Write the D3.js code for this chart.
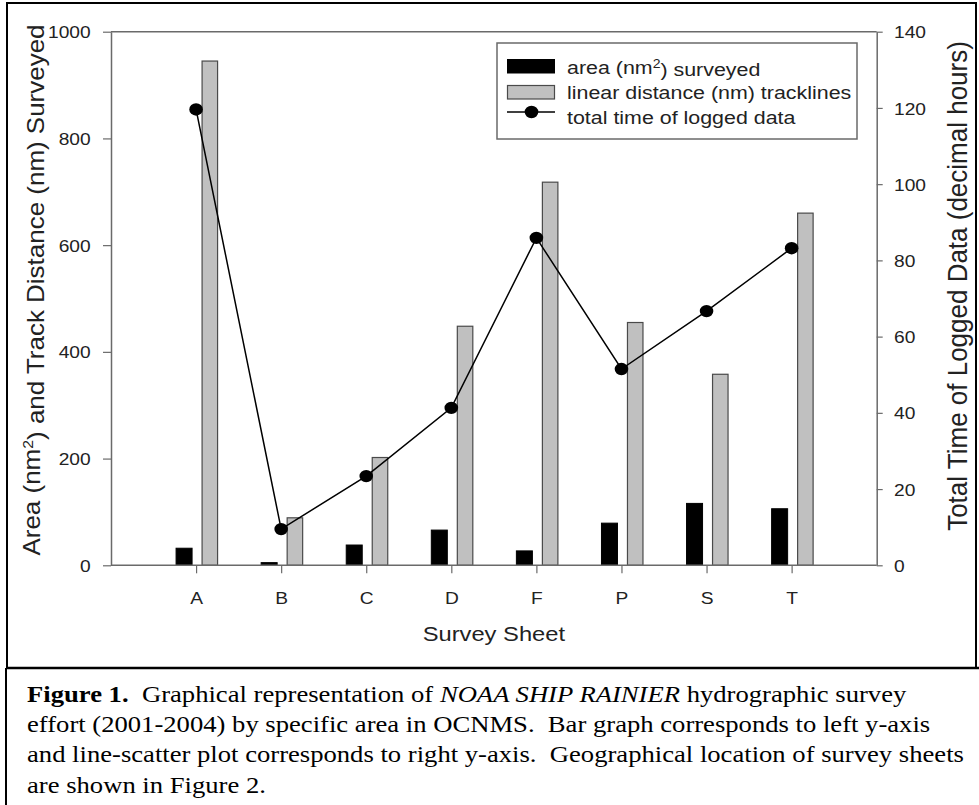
<!DOCTYPE html>
<html><head><meta charset="utf-8">
<script src="https://d3js.org/d3.v7.min.js"></script>
<style>
html,body{margin:0;padding:0;background:#fff;}
svg{display:block;}
text{font-family:"Liberation Sans",Arial,sans-serif;}
.cap{font-family:"Liberation Serif","Times New Roman",serif;font-size:24px;fill:#000;white-space:pre;}
</style></head>
<body>
<svg id="chart" width="979" height="805"></svg>
<script>
const categories = ["A","B","C","D","F","P","S","T"];
const areaSurveyed = [32, 5, 38, 66, 27, 79, 116, 106];
const trackDistance = [945, 89, 202, 448, 718, 455, 358, 660];
const loggedHours = [119.6, 9.5, 23.4, 41.3, 85.9, 51.5, 66.7, 83.2];
const leftTicks = [0, 200, 400, 600, 800, 1000];
const rightTicks = [0, 20, 40, 60, 80, 100, 120, 140];
const legendLabels = ["area (nm\u00b2) surveyed", "linear distance (nm) tracklines", "total time of logged data"];
const captionLines = [
  [{t:"Figure 1.", w:"bold"}, {t:"  Graphical representation of "}, {t:"NOAA SHIP RAINIER", s:"italic"}, {t:" hydrographic survey"}],
  [{t:"effort (2001-2004) by specific area in OCNMS.  Bar graph corresponds to left y-axis"}],
  [{t:"and line-scatter plot corresponds to right y-axis.  Geographical location of survey sheets"}],
  [{t:"are shown in Figure 2."}]
];

const SX = 1.13; // horizontal stretch of the original raster
const svg = d3.select("#chart");
const L = 111, R = 876.7, T = 31.7, B = 565.3;
const axisColor = "#6a6a6a", textColor = "#222";

const x = d3.scalePoint().domain(categories).range([L, R]).padding(1);
const yL = d3.scaleLinear().domain([0, 1000]).range([B, T]);
const yR = d3.scaleLinear().domain([0, 140]).range([B, T]);

// outer frames
svg.append("rect").attr("x", 7).attr("y", 3).attr("width", 969).attr("height", 665)
  .attr("fill", "none").attr("stroke", "#000").attr("stroke-width", 2);
svg.append("line").attr("x1", 6).attr("x2", 979).attr("y1", 668).attr("y2", 668)
  .attr("stroke", "#000").attr("stroke-width", 2.5);
svg.append("line").attr("x1", 6).attr("x2", 6).attr("y1", 668).attr("y2", 805)
  .attr("stroke", "#000").attr("stroke-width", 2);

// plot frame top line
svg.append("line").attr("x1", L).attr("x2", R).attr("y1", T).attr("y2", T)
  .attr("stroke", axisColor).attr("stroke-width", 1.5);

// bars
const barW = 16, gap = 10;
const g = svg.append("g");
g.selectAll("rect.area").data(categories).join("rect").attr("class", "area")
  .attr("x", d => x(d) - gap/2 - barW + 1)
  .attr("width", barW)
  .attr("y", (d, i) => yL(areaSurveyed[i]))
  .attr("height", (d, i) => B - yL(areaSurveyed[i]))
  .attr("fill", "#000").attr("stroke", "#000").attr("stroke-width", 1);
g.selectAll("rect.dist").data(categories).join("rect").attr("class", "dist")
  .attr("x", d => x(d) + gap/2 + 1)
  .attr("width", barW - 0.5)
  .attr("y", (d, i) => yL(trackDistance[i]))
  .attr("height", (d, i) => B - yL(trackDistance[i]))
  .attr("fill", "#c0c0c0").attr("stroke", "#4a4a4a").attr("stroke-width", 1.2);

// axes
function styleAxis(sel) {
  sel.selectAll("path.domain").attr("stroke", axisColor).attr("stroke-width", 1.5);
  sel.selectAll(".tick line").attr("stroke", axisColor).attr("stroke-width", 1.2);
  sel.selectAll("text").attr("fill", textColor).style("font-size", "17px")
     .style("font-family", "'Liberation Sans',Arial,sans-serif");
}
const axL = svg.append("g").attr("transform", `translate(${L},0)`)
  .call(d3.axisLeft(yL).tickValues(leftTicks).tickSize(8).tickSizeOuter(0).tickFormat(d3.format("d")));
styleAxis(axL);
axL.selectAll(".tick text").attr("x", 0).attr("dy", "0.36em").attr("transform", `translate(-20.3,0) scale(${SX},1)`);

const axR = svg.append("g").attr("transform", `translate(${R},0)`)
  .call(d3.axisRight(yR).tickValues(rightTicks).tickSize(6).tickSizeOuter(0).tickFormat(d3.format("d")));
styleAxis(axR);
axR.selectAll(".tick text").attr("x", 0).attr("dy", "0.36em").attr("transform", `translate(17.3,0) scale(${SX},1)`);

const axB = svg.append("g").attr("transform", `translate(0,${B})`)
  .call(d3.axisBottom(x).tickSize(8).tickSizeOuter(0));
styleAxis(axB);
axB.select("path.domain").attr("d", `M${L},0H${R}`);
axB.selectAll(".tick text").attr("y", 0).attr("dy", 0).attr("transform", `translate(0,38.5) scale(${SX},1)`);

// line + points
const line = d3.line().x((d, i) => x(categories[i])).y(d => yR(d));
svg.append("path").datum(loggedHours).attr("d", line)
  .attr("fill", "none").attr("stroke", "#000").attr("stroke-width", 1.5);
svg.selectAll("ellipse.pt").data(loggedHours).join("ellipse").attr("class", "pt")
  .attr("cx", (d, i) => x(categories[i])).attr("cy", d => yR(d))
  .attr("rx", 6.8).attr("ry", 6.2).attr("fill", "#000");

// axis titles
const lt = svg.append("text").attr("transform", `translate(40,290) scale(1,1.06) rotate(-90)`)
  .attr("text-anchor", "middle").attr("fill", textColor).style("font-size", "24.5px");
lt.append("tspan").text("Area (nm");
lt.append("tspan").text("2").attr("dy", "-0.45em").style("font-size", "15px");
lt.append("tspan").text(") and Track Distance (nm) Surveyed").attr("dy", "0.45em");

svg.append("text").attr("transform", `translate(967,286) scale(1.05,1.02) rotate(-90)`)
  .attr("text-anchor", "middle").attr("fill", textColor).style("font-size", "25.5px")
  .text("Total Time of Logged Data (decimal hours)");

svg.append("text").attr("transform", `translate(${(L + R) / 2},641) scale(${SX},1)`)
  .attr("text-anchor", "middle").attr("fill", textColor).style("font-size", "21px")
  .text("Survey Sheet");

// legend
const lg = svg.append("g");
lg.append("rect").attr("x", 497).attr("y", 43).attr("width", 360).attr("height", 96)
  .attr("fill", "#fff").attr("stroke", axisColor).attr("stroke-width", 1.5);
lg.append("rect").attr("x", 507.5).attr("y", 59.5).attr("width", 47).attr("height", 13.5)
  .attr("fill", "#000").attr("stroke", "#000");
lg.append("rect").attr("x", 507.5).attr("y", 85.5).attr("width", 47).attr("height", 13.5)
  .attr("fill", "#c0c0c0").attr("stroke", "#4a4a4a").attr("stroke-width", 1.2);
lg.append("line").attr("x1", 507).attr("x2", 555).attr("y1", 112).attr("y2", 112)
  .attr("stroke", "#000").attr("stroke-width", 1.5);
lg.append("ellipse").attr("cx", 531.5).attr("cy", 112).attr("rx", 6.8).attr("ry", 6.2).attr("fill", "#000");
const legBase = [73.5, 99.3, 124.3];
legendLabels.forEach((lab, i) => {
  const t = lg.append("text").attr("transform", `translate(567,${legBase[i]}) scale(1.17,1)`)
    .attr("fill", textColor).style("font-size", "18.3px");
  if (i === 0) {
    t.append("tspan").text("area (nm");
    t.append("tspan").text("2").attr("dy", "-0.45em").style("font-size", "12px");
    t.append("tspan").text(") surveyed").attr("dy", "0.45em");
  } else {
    t.text(lab);
  }
});

// caption
const capBase = [702, 732, 762, 793];
captionLines.forEach((parts, i) => {
  const t = svg.append("text").attr("class", "cap")
    .attr("transform", `translate(27,${capBase[i]}) scale(1.11,1)`);
  parts.forEach(p => {
    const sp = t.append("tspan").text(p.t);
    if (p.w) sp.style("font-weight", p.w);
    if (p.s) sp.style("font-style", p.s);
  });
});
</script>
</body></html>
